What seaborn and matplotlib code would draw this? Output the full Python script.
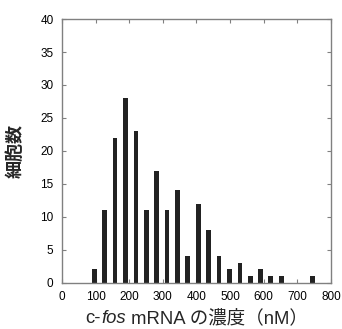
import pandas as pd
import matplotlib
matplotlib.use("Agg")
from matplotlib import pyplot as plt
import seaborn as sns

# bin centres (nM) and cell counts
conc = [96, 127, 158, 189, 220, 251, 281, 312, 343, 374, 405,
        436, 467, 498, 529, 560, 590, 621, 652, 683, 714, 744]
cells = [2, 11, 22, 28, 23, 11, 17, 11, 14, 4, 12,
         8, 4, 2, 3, 1, 2, 1, 1, 0, 0, 1]
xticks = [0, 100, 200, 300, 400, 500, 600, 700, 800]
yticks = [0, 5, 10, 15, 20, 25, 30, 35, 40]
xlabel_parts = [("c-", "normal"), ("fos", "italic"), (" mRNA の濃度（nM）", "normal")]

df = pd.DataFrame({"conc": conc, "cells": cells})

sns.set_style("white")
plt.rcParams["font.family"] = ["Liberation Sans", "Noto Sans CJK JP", "DejaVu Sans"]

fig = plt.figure(figsize=(3.42, 3.29), dpi=100)
ax = fig.add_axes([0.181, 0.141, 0.787, 0.801])

sns.barplot(data=df, x="conc", y="cells", native_scale=True, width=0.47,
            color="#222222", saturation=1, linewidth=0, ax=ax)

ax.set_xlim(0, 800)
ax.set_ylim(0, 40)
ax.set_xticks(xticks)
ax.set_yticks(yticks)
ax.tick_params(direction="in", length=3, width=0.8, color="#808080",
               top=True, right=True, bottom=True, left=True,
               labelsize=8.5, labelcolor="#000000", pad=6)
for s in ax.spines.values():
    s.set_color("#808080")
    s.set_linewidth(1.0)
ax.set_xlabel("")
ax.set_ylabel("細胞数", fontsize=13, fontweight="bold", labelpad=11)

# x label with italic gene name, built from pieces
fig.canvas.draw()
r = fig.canvas.get_renderer()
texts = []
for s, st in xlabel_parts:
    t = fig.text(0, 0.033, s, fontsize=13.3, style=st, va="center", ha="left")
    texts.append(t)
widths = [t.get_window_extent(r).width for t in texts]
total = sum(widths)
cx = (0.181 + 0.787 / 2) * fig.bbox.width
x0 = cx - total / 2
for t, w in zip(texts, widths):
    t.set_x(x0 / fig.bbox.width)
    x0 += w

fig.savefig("out.png", dpi=100)
